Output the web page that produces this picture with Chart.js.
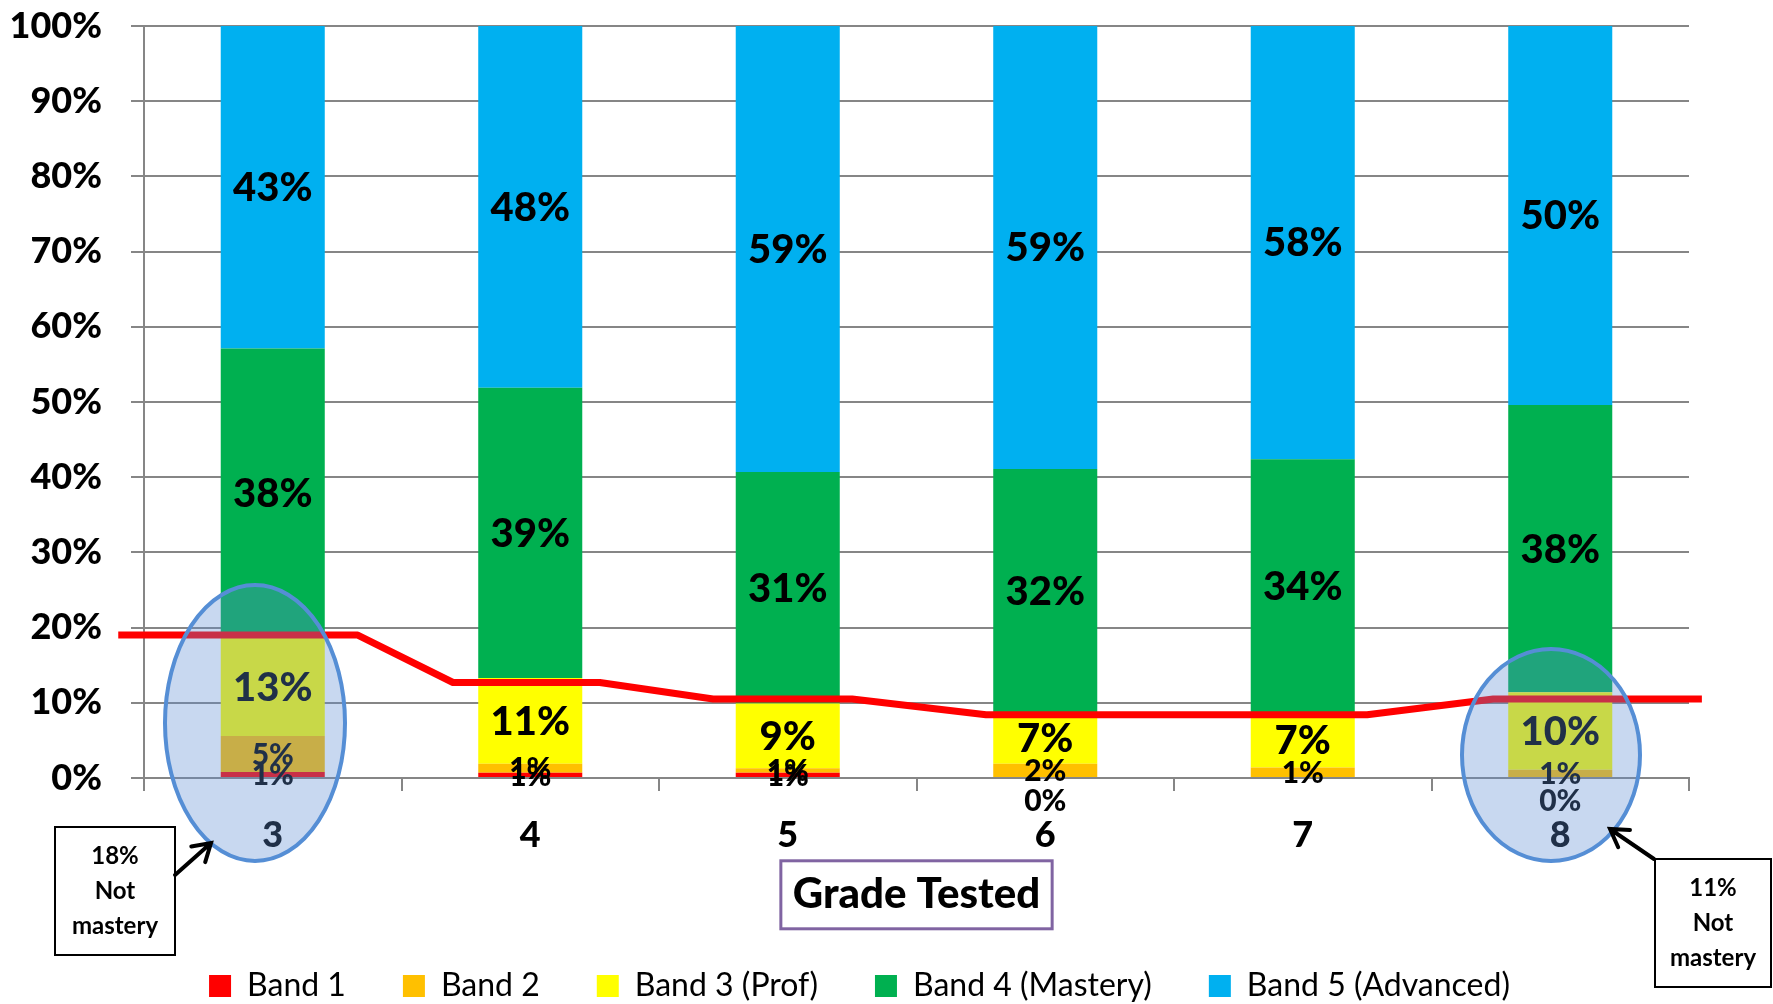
<!DOCTYPE html>
<html>
<head>
<meta charset="utf-8">
<script src="https://cdn.jsdelivr.net/npm/chart.js@4.4.1/dist/chart.umd.min.js"></script>
<style>
  html, body { margin: 0; padding: 0; background: #fff; }
  #wrap { width: 1773px; height: 1004px; position: relative; }
</style>
</head>
<body>
<div id="wrap"><canvas id="bands"></canvas></div>
<script>
// grades and band shares (percent of students)
const grades = ['3', '4', '5', '6', '7', '8'];
const bandNames = ['Band 1', 'Band 2', 'Band 3 (Prof)', 'Band 4 (Mastery)', 'Band 5 (Advanced)'];
const band1 = [0.8, 0.7, 0.7, 0, null, 0];
const band2 = [4.8, 1.2, 0.6, 1.9, 1.4, 1.1];
const band3 = [13.1, 11.4, 8.6, 6.8, 7.3, 10.3];
const band4 = [38.4, 38.6, 30.8, 32.4, 33.7, 38.2];
const band5 = [42.9, 48.1, 59.3, 58.9, 57.6, 50.4];
const bandColors = ['#FF0000', '#FFC000', '#FFFF00', '#00B050', '#00B0F0'];

// red "not mastery" line, x in category units (0 = grade 3)
const notMasteryX = [-0.6, 0.33, 0.7, 1.27, 1.71, 2.25, 2.77, 4.25, 4.74, 5.55];
const notMasteryY = [19.0, 19.0, 12.7, 12.7, 10.5, 10.5, 8.4, 8.4, 10.5, 10.5];

const axisTitle = 'Grade Tested';
const noteLeft = ['18%', 'Not', 'mastery'];
const noteRight = ['11%', 'Not', 'mastery'];

const FONT = 'Lato, "Open Sans", sans-serif';
const HEAVY = 900;
const GRID = '#868686';
const PLOT_BOTTOM = 778;
const PAD_BOTTOM = -8;

const bandData = [band1, band2, band3, band4, band5];

const dataLabels = {
  id: 'dataLabels',
  afterDatasetsDraw(chart) {
    const ctx = chart.ctx;
    ctx.save();
    ctx.textAlign = 'center';
    ctx.textBaseline = 'middle';
    ctx.fillStyle = '#000';
    chart.data.datasets.forEach((ds, di) => {
      if (ds.type === 'line') return;
      const meta = chart.getDatasetMeta(di);
      ctx.font = `${HEAVY} ${di < 2 ? 30 : 40}px ${FONT}`;
      meta.data.forEach((bar, i) => {
        const v = ds.data[i];
        if (v == null) return;
        let y = (bar.y + bar.base) / 2;
        if (v === 0) y += 22;
        ctx.fillText(Math.round(v) + '%', bar.x, y + 1);
      });
    });
    ctx.restore();
  }
};

function note(ctx, lines, x0, y0, x1, y1, arrow) {
  ctx.fillStyle = '#fff';
  ctx.fillRect(x0, y0, x1 - x0, y1 - y0);
  ctx.lineWidth = 2;
  ctx.strokeStyle = '#000';
  ctx.strokeRect(x0, y0, x1 - x0, y1 - y0);
  ctx.fillStyle = '#000';
  ctx.font = `bold 24px ${FONT}`;
  ctx.textAlign = 'center';
  ctx.textBaseline = 'middle';
  const cx = (x0 + x1) / 2, cy = (y0 + y1) / 2;
  lines.forEach((t, i) => ctx.fillText(t, cx, cy + (i - 1) * 35));
  // arrow with open head
  const [ax, ay, bx, by] = arrow;
  const ang = Math.atan2(by - ay, bx - ax);
  ctx.lineWidth = 4;
  ctx.lineCap = 'round';
  ctx.beginPath();
  ctx.moveTo(ax, ay); ctx.lineTo(bx, by);
  ctx.moveTo(bx - 20 * Math.cos(ang - 0.55), by - 20 * Math.sin(ang - 0.55));
  ctx.lineTo(bx, by);
  ctx.lineTo(bx - 20 * Math.cos(ang + 0.55), by - 20 * Math.sin(ang + 0.55));
  ctx.stroke();
}

const callouts = {
  id: 'callouts',
  afterLayout(chart) {
    // legend sits a little right of the canvas centre in the original
    chart.legend.left += 30;
  },
  afterDraw(chart) {
    const ctx = chart.ctx;
    const xs = chart.scales.x;
    ctx.save();
    // box round the axis title
    const t = xs.options.title;
    const f = Chart.helpers.toFont(t.font);
    const pad = Chart.helpers.toPadding(t.padding);
    const cy = xs.bottom - pad.bottom - f.lineHeight / 2;
    ctx.font = f.string;
    const w = ctx.measureText(t.text).width + 24;
    ctx.lineWidth = 3;
    ctx.strokeStyle = '#8064A2';
    ctx.strokeRect((xs.left + xs.right) / 2 - w / 2, cy - 34, w, 68);

    // highlight ellipses
    [[255, 723, 90, 138], [1551, 755, 89, 106]].forEach(([ex, ey, rx, ry]) => {
      ctx.beginPath();
      ctx.ellipse(ex, ey, rx, ry, 0, 0, Math.PI * 2);
      ctx.fillStyle = 'rgba(94,141,212,0.34)';
      ctx.fill();
      ctx.lineWidth = 4;
      ctx.strokeStyle = '#558ED5';
      ctx.stroke();
    });

    note(ctx, noteLeft, 55, 827, 175, 955, [175, 875, 211, 843]);
    note(ctx, noteRight, 1655, 859, 1771, 987, [1654, 859, 1610, 829]);
    ctx.restore();
  }
};

const datasets = bandData.map((d, i) => ({
  label: bandNames[i],
  data: d,
  backgroundColor: bandColors[i],
  borderWidth: 0,
  grouped: false,
  categoryPercentage: 1,
  barPercentage: 0.404,
  stack: 'bands'
}));
datasets.push({
  type: 'line',
  label: 'Not mastery',
  data: notMasteryX.map((x, i) => ({ x, y: notMasteryY[i] })),
  xAxisID: 'xl',
  yAxisID: 'y',
  stack: 'line',
  borderColor: '#FF0000',
  borderWidth: 7,
  borderJoinStyle: 'round',
  pointRadius: 0,
  fill: false,
  tension: 0,
  clip: false,
  order: -1
});

new Chart(document.getElementById('bands').getContext('2d'), {
  type: 'bar',
  data: { labels: grades, datasets },
  options: {
    responsive: true,
    maintainAspectRatio: false,
    animation: false,
    layout: { padding: { top: 26, right: 84, left: 0, bottom: PAD_BOTTOM } },
    plugins: {
      tooltip: { enabled: false },
      legend: {
        position: 'bottom',
        labels: {
          filter: item => item.datasetIndex < 5,
          boxWidth: 22, boxHeight: 22, padding: 57,
          color: '#000',
          font: { family: FONT, size: 32 }
        }
      }
    },
    scales: {
      x: {
        stacked: true,
        grid: { offset: true, drawOnChartArea: false, drawTicks: true, tickLength: 13, color: GRID, lineWidth: 2 },
        border: { display: true, color: GRID, width: 2 },
        ticks: { color: '#000', padding: 23, maxRotation: 0, font: { family: FONT, size: 36, weight: HEAVY } },
        title: { display: true, text: axisTitle, color: '#000', padding: { top: 0, bottom: -7 },
          font: { family: FONT, size: 42, weight: HEAVY } },
        afterFit: s => { s.height = s.chart.height - PAD_BOTTOM - s.chart.legend.height - PLOT_BOTTOM; }
      },
      xl: { type: 'linear', display: false, offset: false, min: -0.5, max: 5.5 },
      y: {
        stacked: true,
        min: 0, max: 100,
        grid: { color: GRID, lineWidth: 2, tickLength: 13 },
        border: { display: true, color: GRID, width: 2 },
        ticks: { stepSize: 10, padding: 29, color: '#000', callback: v => v + '%',
          font: { family: FONT, size: 36, weight: HEAVY } },
        afterFit: s => { s.width = 144; s.paddingTop = 0; s.paddingBottom = 0; }
      }
    }
  },
  plugins: [dataLabels, callouts]
});
</script>
</body>
</html>
